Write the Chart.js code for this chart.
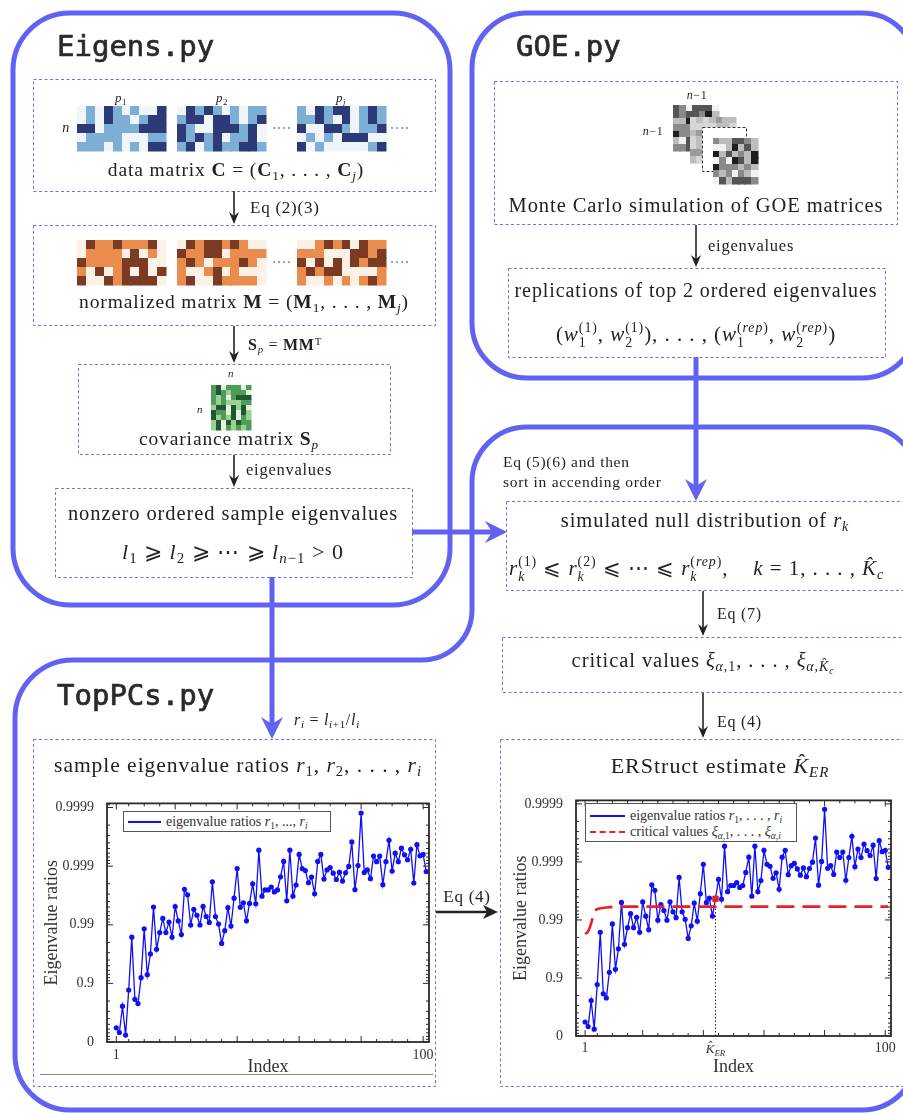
<!DOCTYPE html>
<html><head><meta charset="utf-8">
<script src="https://cdn.jsdelivr.net/npm/chart.js@4.4.1/dist/chart.umd.min.js"></script>
<style>
html,body{margin:0;padding:0;background:#fff;}
#root{position:relative;width:903px;height:1115px;overflow:hidden;background:#fff;}
#bg{position:absolute;left:0;top:0;}
.t{position:absolute;white-space:nowrap;font-family:"Liberation Serif","DejaVu Serif",serif;color:#222;line-height:1;transform:translate(-50%,-50%);letter-spacing:0.045em;}
.t.l{transform:translate(0,-50%);}
.mono{font-family:"DejaVu Sans Mono",monospace;font-size:29px;color:#2a2a2a;font-weight:normal;-webkit-text-stroke:0.7px #2a2a2a;letter-spacing:0;}
sub,sup{font-size:0.68em;line-height:0;position:relative;vertical-align:baseline;}
sub{top:0.3em;} sup{top:-0.45em;}
.st{display:inline-block;vertical-align:-0.42em;font-size:0.66em;line-height:1.05;text-align:left;}
.st span{display:block;}
.cw{position:absolute;}
.leg{position:absolute;border:1px solid #555;background:#fff;font-family:"Liberation Serif",serif;font-size:14px;color:#333;box-sizing:border-box;}
.leg .ln{position:absolute;left:4px;width:33px;height:0;}
.leg .tx{position:absolute;left:42px;white-space:nowrap;line-height:1;transform:translateY(-50%);}
</style></head>
<body>
<div id="root">
<canvas id="bg" width="903" height="1115"></canvas>

<div class="t l mono" style="left:57px;top:46px">Eigens.py</div>
<div class="t l mono" style="left:516px;top:46px">GOE.py</div>
<div class="t l mono" style="left:57px;top:695px">TopPCs.py</div>

<div class="t" style="left:121px;top:97px;font-size:13px"><i>p</i><sub>1</sub></div>
<div class="t" style="left:222px;top:97px;font-size:13px"><i>p</i><sub>2</sub></div>
<div class="t" style="left:341px;top:97px;font-size:13px"><i>p<sub>j</sub></i></div>
<div class="t" style="left:66px;top:128px;font-size:14px"><i>n</i></div>
<div class="t" style="left:236px;top:170px;font-size:19.5px">data matrix <b>C</b> = (<b>C</b><sub>1</sub>, . . . , <b>C</b><sub><i>j</i></sub>)</div>
<div class="t l" style="left:250px;top:207px;font-size:17px">Eq (2)(3)</div>
<div class="t" style="left:244px;top:302px;font-size:19.5px">normalized matrix <b>M</b> = (<b>M</b><sub>1</sub>, . . . , <b>M</b><sub><i>j</i></sub>)</div>
<div class="t l" style="left:248px;top:345px;font-size:16px"><b>S</b><sub><i>p</i></sub> = <b>MM</b><sup>T</sup></div>
<div class="t" style="left:231px;top:373px;font-size:11px"><i>n</i></div>
<div class="t" style="left:200px;top:409px;font-size:11px"><i>n</i></div>
<div class="t" style="left:229px;top:439px;font-size:19.5px">covariance matrix <b>S</b><sub><i>p</i></sub></div>
<div class="t l" style="left:246px;top:470px;font-size:16.5px">eigenvalues</div>
<div class="t" style="left:233px;top:513px;font-size:20.5px">nonzero ordered sample eigenvalues</div>
<div class="t" style="left:233px;top:552px;font-size:22px"><i>l</i><sub>1</sub> ⩾ <i>l</i><sub>2</sub> ⩾ ⋯ ⩾ <i>l</i><sub><i>n</i>−1</sub> &gt; 0</div>

<div class="t" style="left:697px;top:95px;font-size:12px"><i>n</i>−1</div>
<div class="t" style="left:653px;top:131px;font-size:12px"><i>n</i>−1</div>
<div class="t" style="left:696px;top:205px;font-size:20.5px">Monte Carlo simulation of GOE matrices</div>
<div class="t l" style="left:708px;top:246px;font-size:16.5px">eigenvalues</div>
<div class="t" style="left:696px;top:290px;font-size:20px">replications of top 2 ordered eigenvalues</div>
<div class="t" style="left:696px;top:336px;font-size:21px">(<i>w</i><span class="st"><span>(1)</span><span>1</span></span>, <i>w</i><span class="st"><span>(1)</span><span>2</span></span>), . . . , (<i>w</i><span class="st"><span>(<i>rep</i>)</span><span>1</span></span>, <i>w</i><span class="st"><span>(<i>rep</i>)</span><span>2</span></span>)</div>

<div class="t l" style="left:503px;top:462px;font-size:15.5px">Eq (5)(6) and then</div>
<div class="t l" style="left:503px;top:482px;font-size:15.5px">sort in accending order</div>
<div class="t" style="left:705px;top:520px;font-size:20.5px">simulated null distribution of <i>r<sub>k</sub></i></div>
<div class="t l" style="left:509px;top:570px;font-size:21px"><i>r</i><span class="st"><span>(1)</span><span><i>k</i></span></span> ⩽ <i>r</i><span class="st"><span>(2)</span><span><i>k</i></span></span> ⩽ ⋯ ⩽ <i>r</i><span class="st"><span>(<i>rep</i>)</span><span><i>k</i></span></span>, &nbsp;&nbsp; <i>k</i> = 1, . . . , <i>K̂</i><sub><i>c</i></sub></div>
<div class="t l" style="left:717px;top:614px;font-size:16px">Eq (7)</div>
<div class="t" style="left:703px;top:660px;font-size:20.5px">critical values <i>ξ</i><sub><i>α</i>,1</sub>, . . . , <i>ξ</i><sub><i>α</i>,<i>K̂<sub>c</sub></i></sub></div>
<div class="t l" style="left:717px;top:722px;font-size:16px">Eq (4)</div>
<div class="t" style="left:720px;top:766px;font-size:22px">ERStruct estimate <i>K̂</i><sub><i>ER</i></sub></div>

<div class="t l" style="left:294px;top:720px;font-size:16px"><i>r<sub>i</sub></i> = <i>l</i><sub><i>i</i>+1</sub>/<i>l<sub>i</sub></i></div>
<div class="t" style="left:238px;top:766px;font-size:21.5px">sample eigenvalue ratios <i>r</i><sub>1</sub>, <i>r</i><sub>2</sub>, . . . , <i>r<sub>i</sub></i></div>
<div class="t" style="left:467px;top:896px;font-size:17px">Eq (4)</div>

<div class="cw" style="left:20px;top:790px;"><canvas id="c1" width="420" height="290"></canvas></div>
<div class="cw" style="left:490px;top:787px;"><canvas id="c2" width="413" height="293"></canvas></div>

<div class="leg" style="left:123px;top:811px;width:208px;height:21px;">
  <div class="ln" style="top:9px;border-top:2px solid #1010f5"></div>
  <div class="tx" style="top:10px">eigenvalue ratios <i>r</i><sub>1</sub>, ..., <i>r<sub>i</sub></i></div>
</div>
<div class="leg" style="left:585px;top:803px;width:212px;height:39px;">
  <div class="ln" style="top:11px;width:35px;border-top:2px solid #1010f5"></div>
  <div class="tx" style="top:12px;left:44px">eigenvalue ratios <i>r</i><sub>1</sub>, . . . , <i>r<sub>i</sub></i></div>
  <div class="ln" style="top:27px;width:35px;border-top:2.5px dashed #e8202a"></div>
  <div class="tx" style="top:28px;left:44px">critical values <i>ξ</i><sub><i>α</i>,1</sub>, . . . , <i>ξ</i><sub><i>α</i>,<i>i</i></sub></div>
</div>
<div id="kerLabel" class="t" style="left:718px;top:1048px;font-size:13px;color:#333;letter-spacing:0"><i>K̂</i><sub><i>ER</i></sub></div>
</div>

<script>
// ---------------- data ----------------
const ratios = [
  0.426, 0.311, 0.755, 0.238, 0.870, 0.9837, 0.813, 0.779, 0.920, 0.9883,
  0.929, 0.9685, 0.9950, 0.9737, 0.9864, 0.9922, 0.9864, 0.9910, 0.9837, 0.9951,
  0.9914, 0.9853, 0.99752, 0.99691, 0.9899, 0.99455, 0.99312, 0.9899, 0.99514, 0.99276,
  0.99086, 0.99815, 0.99276, 0.99025, 0.97914, 0.98738, 0.99489, 0.98948, 0.99648, 0.99890,
  0.99495, 0.99579, 0.99143, 0.99568, 0.99800, 0.99562, 0.999465, 0.99674, 0.99745, 0.99745,
  0.99773, 0.99725, 0.99745, 0.99848, 0.99917, 0.99610, 0.999465, 0.99674, 0.99790, 0.999368,
  0.99890, 0.99881, 0.99808, 0.99846, 0.99703, 0.99917, 0.999368, 0.99834, 0.99884, 0.99894,
  0.99868, 0.99831, 0.99873, 0.99820, 0.99870, 0.99899, 0.999613, 0.99748, 0.99902, 0.999876,
  0.99871, 0.99884, 0.99836, 0.999325, 0.99916, 0.999325, 0.99793, 0.99916, 0.999637, 0.99879,
  0.999399, 0.99916, 0.999505, 0.999359, 0.999222, 0.999485, 0.99806, 0.99957, 0.999333, 0.999368,
  0.99876
];
const critIndex  = [1, 2, 3, 4, 5, 6, 8, 12, 101];
const critValues = [0.9825, 0.9842, 0.9886, 0.9926, 0.9935, 0.9937, 0.9939, 0.9941, 0.9941];
const kER = 44;
const yTickRatios = [0, 0.9, 0.99, 0.999, 0.9999];
const yTickLabels = ['0', '0.9', '0.99', '0.999', '0.9999'];
const xTicksLeft  = [1, 100];
const xLabelsLeft = ['1', '100'];
const xTicksRight  = [1, 44, 100];
const xLabelsRight = ['1', '', '100'];
const xFrameMajor = [1, 20, 40, 60, 80, 100];
const xFrameMinor = [5, 10, 15, 25, 30, 35, 45, 50, 55, 65, 70, 75, 85, 90, 95];

// ---------------- helpers ----------------
const dec = r => (r <= 0 ? 0 : -Math.log10(1 - r));
const SERIF = '"Liberation Serif", "DejaVu Serif", serif';
const BLUE = '#1010f5', RED = '#e8202a';
function interp(xs, ys, x) {
  for (let i = 0; i < xs.length - 1; i++) {
    if (x >= xs[i] && x <= xs[i + 1]) {
      const t = (x - xs[i]) / (xs[i + 1] - xs[i]);
      return ys[i] + t * (ys[i + 1] - ys[i]);
    }
  }
  return ys[ys.length - 1];
}

// plugin: frame with inward ticks on all four sides
const frameTicks = {
  id: 'frameTicks',
  afterDatasetsDraw(chart) {
    const { ctx, chartArea: a, scales: { x, y } } = chart;
    ctx.save();
    ctx.strokeStyle = '#2a2a2a';
    const seg = (x1, y1, x2, y2) => { ctx.beginPath(); ctx.moveTo(x1, y1); ctx.lineTo(x2, y2); ctx.stroke(); };
    ctx.lineWidth = 1;
    yTickRatios.forEach(r => {
      const p = y.getPixelForValue(dec(r));
      seg(a.left, p, a.left + 6, p); seg(a.right, p, a.right - 6, p);
    });
    for (let d = 0; d < 5; d++) {
      for (let k = 2; k <= 9; k++) {
        const v = d + 1 - Math.log10(k);
        if (v <= y.min || v >= y.max) continue;
        const p = y.getPixelForValue(v);
        seg(a.left, p, a.left + 3, p); seg(a.right, p, a.right - 3, p);
      }
    }
    xFrameMajor.forEach(v => {
      const p = x.getPixelForValue(v);
      seg(p, a.bottom, p, a.bottom - 6); seg(p, a.top, p, a.top + 6);
    });
    xFrameMinor.forEach(v => {
      const p = x.getPixelForValue(v);
      seg(p, a.bottom, p, a.bottom - 3); seg(p, a.top, p, a.top + 3);
    });
    ctx.lineWidth = 1.8;
    ctx.strokeRect(a.left, a.top, a.right - a.left, a.bottom - a.top);
    ctx.restore();
  }
};

function scales(opt) {
  return {
    x: {
      type: 'linear', min: -2, max: 101.9,
      grid: { display: false }, border: { display: false },
      afterBuildTicks: s => { s.ticks = opt.xTicks.map(v => ({ value: v })); },
      afterFit: s => { s.height = opt.xH; },
      ticks: { autoSkip: false, maxRotation: 0, padding: opt.xPad, color: '#333',
               font: { family: SERIF, size: 14 }, callback: (v, i) => opt.xLabels[i] },
      title: { display: true, text: 'Index', color: '#333', font: { family: SERIF, size: 18 },
               padding: { top: 0, bottom: 2 } }
    },
    y: {
      type: 'linear', min: 0, max: opt.yMax,
      grid: { display: false }, border: { display: false },
      afterBuildTicks: s => { s.ticks = yTickRatios.map(r => ({ value: dec(r) })); },
      afterFit: s => { s.width = opt.yW; },
      ticks: { autoSkip: false, padding: 5, color: '#333', font: { family: SERIF, size: 14 },
               callback: (v, i) => yTickLabels[i] },
      title: { display: true, text: 'Eigenvalue ratios', color: '#333', font: { family: SERIF, size: 18 },
               padding: { top: opt.titlePad, bottom: 0 } }
    }
  };
}

const ratioPoints = ratios.map((r, i) => ({ x: i + 1, y: dec(r) }));
const blueSet = {
  label: 'eigenvalue ratios', data: ratioPoints, borderColor: BLUE, backgroundColor: BLUE,
  pointBackgroundColor: BLUE, pointBorderWidth: 0, borderWidth: 1.3, pointRadius: 2.6, tension: 0, order: 2
};

new Chart(document.getElementById('c1'), {
  type: 'line',
  data: { datasets: [blueSet] },
  options: {
    responsive: false, animation: false, devicePixelRatio: 1,
    layout: { padding: { left: 0, right: 11, top: 10, bottom: 0 } },
    plugins: { legend: { display: false }, tooltip: { enabled: false } },
    scales: scales({ xTicks: xTicksLeft, xLabels: xLabelsLeft, xH: 38, yW: 87, yMax: 4.07, titlePad: 21, xPad: -3 })
  },
  plugins: [frameTicks]
});

const critPlateau = interp(critIndex, critValues, kER);
const c2 = new Chart(document.getElementById('c2'), {
  type: 'line',
  data: {
    datasets: [
      Object.assign({}, blueSet, { data: ratioPoints.slice(), order: 2 }),
      { label: 'critical values', data: critIndex.map((k, i) => ({ x: k, y: dec(critValues[i]) })),
        borderColor: RED, borderWidth: 2.6, borderDash: [18, 8], pointRadius: 0,
        cubicInterpolationMode: 'monotone', order: 1 },
      { label: 'K_ER', data: [{ x: kER, y: dec(ratios[kER - 1]) }], showLine: false,
        pointStyle: 'rect', pointRadius: 3.8, backgroundColor: RED, borderColor: RED, order: 0 },
      { label: 'K_ER line', data: [{ x: kER, y: 0 }, { x: kER, y: dec(critPlateau) }],
        borderColor: '#222', borderWidth: 1, borderDash: [1.5, 2], pointRadius: 0, order: 3 }
    ]
  },
  options: {
    responsive: false, animation: false, devicePixelRatio: 1,
    layout: { padding: { left: 0, right: 12, top: 10, bottom: 0 } },
    plugins: { legend: { display: false }, tooltip: { enabled: false } },
    scales: scales({ xTicks: xTicksRight, xLabels: xLabelsRight, xH: 44, yW: 86, yMax: 4.06, titlePad: 20, xPad: -4 })
  },
  plugins: [frameTicks]
});
document.getElementById('kerLabel').style.left = (490 + c2.scales.x.getPixelForValue(kER)) + 'px';

// ---------------- diagram background ----------------
const g = document.getElementById('bg').getContext('2d');
const FR = '#6262f2', DB = '#7272d6';
function rr(x, y, w, h, r) {
  g.beginPath(); g.moveTo(x + r, y);
  g.arcTo(x + w, y, x + w, y + h, r); g.arcTo(x + w, y + h, x, y + h, r);
  g.arcTo(x, y + h, x, y, r); g.arcTo(x, y, x + w, y, r); g.closePath();
}
g.strokeStyle = FR; g.lineWidth = 5; g.lineJoin = 'round';
rr(13, 13, 437, 592, 57); g.stroke();
rr(472, 13, 445, 365, 55); g.stroke();
g.beginPath();
g.moveTo(530, 427);
g.arcTo(917, 427, 917, 1110, 52);
g.arcTo(917, 1110, 15, 1110, 55);
g.arcTo(15, 1110, 15, 660, 55);
g.arcTo(15, 660, 472, 660, 58);
g.arcTo(472, 660, 472, 427, 50);
g.arcTo(472, 427, 917, 427, 55);
g.closePath(); g.stroke();

function dbox(x1, y1, x2, y2) {
  g.save(); g.strokeStyle = DB; g.lineWidth = 1; g.setLineDash([3, 2.5]);
  g.strokeRect(x1 + 0.5, y1 + 0.5, x2 - x1, y2 - y1); g.restore();
}
dbox(33, 79, 435, 191); dbox(33, 225, 435, 325); dbox(78, 364, 390, 454); dbox(55, 488, 412, 577);
dbox(494, 81, 897, 224); dbox(508, 268, 885, 357);
dbox(506, 501, 930, 590); dbox(502, 637, 930, 692);
dbox(33, 739, 435, 1086); dbox(500, 739, 930, 1086);
g.save(); g.strokeStyle = '#8a8a8a'; g.lineWidth = 1; g.beginPath(); g.moveTo(40, 1074.5); g.lineTo(433, 1074.5); g.stroke(); g.restore();

g.fillStyle = FR; g.strokeStyle = FR; g.lineWidth = 5; g.lineJoin = 'miter';
function thickV(x, y1, y2) {
  g.beginPath(); g.moveTo(x, y1); g.lineTo(x, y2 - 14); g.stroke();
  g.beginPath(); g.moveTo(x, y2); g.lineTo(x - 11, y2 - 22); g.lineTo(x, y2 - 15); g.lineTo(x + 11, y2 - 22); g.closePath(); g.fill();
}
function thickH(y, x1, x2) {
  g.beginPath(); g.moveTo(x1, y); g.lineTo(x2 - 14, y); g.stroke();
  g.beginPath(); g.moveTo(x2, y); g.lineTo(x2 - 22, y - 11); g.lineTo(x2 - 15, y); g.lineTo(x2 - 22, y + 11); g.closePath(); g.fill();
}
thickV(696, 357, 501);
thickH(532, 412, 507);
thickV(272, 577, 739);

g.fillStyle = '#222'; g.strokeStyle = '#222';
function arrV(x, y1, y2) {
  g.lineWidth = 1.6; g.beginPath(); g.moveTo(x, y1); g.lineTo(x, y2 - 6); g.stroke();
  g.beginPath(); g.moveTo(x, y2); g.lineTo(x - 5, y2 - 12); g.lineTo(x, y2 - 8); g.lineTo(x + 5, y2 - 12); g.closePath(); g.fill();
}
arrV(234, 191, 224); arrV(234, 326, 363); arrV(234, 455, 487);
arrV(696, 225, 267); arrV(703, 591, 636); arrV(703, 693, 738);
g.lineWidth = 2.6; g.beginPath(); g.moveTo(436, 912); g.lineTo(488, 912); g.stroke();
g.beginPath(); g.moveTo(498, 912); g.lineTo(483, 905); g.lineTo(487, 912); g.lineTo(483, 919); g.closePath(); g.fill();

// decorative matrix thumbnails (not chart data)
function hv(i, j, s) {
  let h = Math.imul(i + 1, 374761393) ^ Math.imul(j + 1, 668265263) ^ Math.imul(s + 7, 1274126177);
  h = Math.imul(h ^ (h >>> 13), 1103515245); h ^= h >>> 16;
  return (h >>> 0) % 1000 / 1000;
}
function cells(x, y, w, h, cols, rows, pal, cuts, seed) {
  const cw = w / cols, ch = h / rows;
  for (let i = 0; i < cols; i++) for (let j = 0; j < rows; j++) {
    const v = hv(i, j, seed); let k = 0;
    while (k < cuts.length && v > cuts[k]) k++;
    g.fillStyle = pal[k];
    g.fillRect(Math.round(x + i * cw), Math.round(y + j * ch), Math.ceil(cw) + 0.5, Math.ceil(ch) + 0.5);
  }
}
const bluePal = ['#2d3a78', '#7dafd6', '#f1f5fa'];
const orPal = ['#7b3a22', '#ea8c4e', '#fbf1e6'];
const grPal = ['#1f5a2e', '#4f9b5a', '#9ccf94', '#e3f1df'];
const gyPal = ['#1e1e1e', '#555', '#8a8a8a', '#bcbcbc', '#f2f2f2'];
const lgPal = ['#9a9a9a', '#bdbdbd', '#d6d6d6'];
[77, 177, 297].forEach((x, b) => {
  cells(x, 106, 89, 45, 10, 5, bluePal, [0.36, 0.75], b + 1);
  cells(x, 240, 89, 45, 10, 5, orPal, [0.33, 0.72], b + 11);
});
g.save(); g.strokeStyle = '#6a8ad0'; g.lineWidth = 1.4; g.setLineDash([2, 3]);
[128, 262].forEach(yy => {
  g.beginPath(); g.moveTo(273, yy); g.lineTo(293, yy); g.moveTo(391, yy); g.lineTo(411, yy); g.stroke();
});
g.restore();
cells(211, 385, 40, 45, 8, 9, grPal, [0.2, 0.5, 0.8], 31);
cells(673, 105, 45, 45, 7, 7, gyPal, [0.15, 0.4, 0.65, 0.85], 41);
cells(690, 117, 45, 45, 7, 7, lgPal, [0.3, 0.7], 42);
g.fillStyle = '#fff'; g.fillRect(702, 127, 45, 45);
g.save(); g.strokeStyle = '#333'; g.lineWidth = 1; g.setLineDash([3, 2]); g.strokeRect(702.5, 127.5, 44, 44); g.restore();
cells(713, 138, 44, 45, 7, 7, gyPal, [0.12, 0.35, 0.6, 0.85], 43);
</script>
</body></html>
